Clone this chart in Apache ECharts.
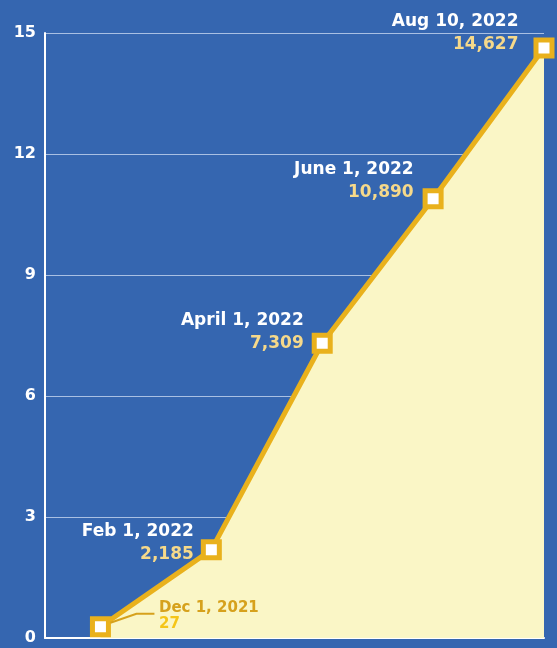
<!DOCTYPE html>
<html>
<head>
<meta charset="utf-8">
<script src="https://cdn.jsdelivr.net/npm/echarts@6/dist/echarts.min.js"></script>
<style>
    html, body { margin: 0; padding: 0; background: #3566b0; }
    #chart { width: 557px; height: 648px; }
</style>
</head>
<body>
<div id="chart"></div>
<script>
// dates of each milestone
const categories = ['Dec 1, 2021', 'Feb 1, 2022', 'April 1, 2022', 'June 1, 2022', 'Aug 10, 2022']
// printed counts
const valueLabels = ['27', '2,185', '7,309', '10,890', '14,627']
// plotted heights in thousands (first point sits a little above zero in the picture)
const values = [0.28, 2.185, 7.309, 10.89, 14.627]
const yTicks = [0, 3, 6, 9, 12, 15]

const LINE = '#e9b11c'
const LEADER = '#d6a11c'
const FONT = 'DejaVu Sans'

// per point label placement: side, gap, then nudge
const labelPlace = [
    {position: 'right', distance: 48, dx: 0, dy: -11},
    {position: 'left', distance: 10, dx: 3, dy: -7},
    {position: 'left', distance: 10, dx: 2, dy: -11},
    {position: 'left', distance: 10, dx: 1, dy: -18},
    {position: 'left', distance: 10, dx: -5, dy: -15}
]

const chart = echarts.init(document.getElementById('chart'))

const seriesData = values.map((v, i) => {
    const p = labelPlace[i]
    return {
        value: [i, v],
        label: {
            show: true,
            position: p.position,
            distance: p.distance,
            align: p.position === 'left' ? 'right' : 'left',
            formatter: i === 0 ? '{d0|' + categories[i] + '}\n{v0|' + valueLabels[i] + '}'
                               : '{d|' + categories[i] + '}\n{v|' + valueLabels[i] + '}'
        }
    }
})

const option = {
    backgroundColor: '#3566b0',
    animation: false,
    grid: {left: 45, right: 13, top: 33, bottom: 10},
    xAxis: {
        type: 'value',
        min: -0.5,
        max: 4,
        axisLine: {show: true, onZero: false, lineStyle: {color: '#ffffff', width: 2}},
        axisTick: {show: false},
        axisLabel: {show: false},
        splitLine: {show: false}
    },
    yAxis: {
        type: 'value',
        min: yTicks[0],
        max: yTicks[yTicks.length - 1],
        interval: 3,
        axisLine: {show: true, onZero: false, lineStyle: {color: '#ffffff', width: 2}},
        axisTick: {show: false},
        axisLabel: {
            color: '#ffffff', fontFamily: FONT, fontWeight: 'bold', fontSize: 16,
            margin: 9, padding: [6, 0, 0, 0]
        },
        splitLine: {lineStyle: {color: '#a9c0e3', width: 1}}
    },
    series: [{
        type: 'line',
        data: seriesData,
        symbol: 'rect',
        symbolSize: 16,
        lineStyle: {color: LINE, width: 5},
        itemStyle: {color: '#ffffff', borderColor: LINE, borderWidth: 5},
        areaStyle: {color: '#faf6c6', opacity: 1},
        labelLayout: function (params) {
            const p = labelPlace[params.dataIndex]
            return {dx: p.dx, dy: p.dy}
        },
        label: {
            lineHeight: 23,
            rich: {
                d: {color: '#ffffff', fontFamily: FONT, fontWeight: 'bold', fontSize: 17, lineHeight: 23},
                v: {color: '#f6d98a', fontFamily: FONT, fontWeight: 'bold', fontSize: 17, lineHeight: 23},
                d0: {color: LEADER, fontFamily: FONT, fontWeight: 'bold', fontSize: 15, lineHeight: 16},
                v0: {color: '#f5c518', fontFamily: FONT, fontWeight: 'bold', fontSize: 15, lineHeight: 16}
            }
        },
        z: 3
    }]
}
chart.setOption(option)

// leader line from the first marker to its label
const first = chart.convertToPixel({gridIndex: 0}, [0, values[0]])
chart.setOption({
    graphic: [{
        type: 'polyline',
        z: 10,
        shape: {
            points: [
                [first[0] + 10, first[1] - 4],
                [first[0] + 36, first[1] - 13],
                [first[0] + 54, first[1] - 13]
            ]
        },
        style: {stroke: LEADER, lineWidth: 2, fill: null}
    }]
})
</script>
</body>
</html>
